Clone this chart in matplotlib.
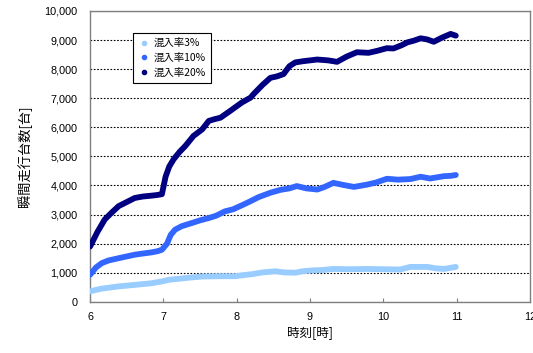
import matplotlib
matplotlib.use("Agg")
import matplotlib.pyplot as plt
from matplotlib.lines import Line2D
from matplotlib.ticker import FuncFormatter

plt.rcParams['font.family'] = ['Liberation Sans', 'Noto Sans CJK JP', 'DejaVu Sans']

# 混入率20%
t20 = [6.00, 6.10, 6.20, 6.30, 6.39, 6.50, 6.61, 6.72, 6.84, 6.91, 6.98, 7.03, 7.08,
       7.14, 7.22, 7.30, 7.41, 7.53, 7.62, 7.70, 7.78, 7.91, 8.07, 8.19, 8.23, 8.35,
       8.46, 8.55, 8.64, 8.72, 8.80, 8.90, 9.10, 9.25, 9.37, 9.50, 9.64, 9.80, 9.92,
       10.05, 10.14, 10.25, 10.33, 10.42, 10.51, 10.60, 10.69, 10.80, 10.92, 10.99]
v20 = [1900, 2400, 2830, 3080, 3290, 3430, 3570, 3620, 3650, 3670, 3700, 4300, 4650,
       4900, 5150, 5360, 5700, 5930, 6220, 6280, 6330, 6560, 6850, 7020, 7140, 7450,
       7700, 7750, 7830, 8100, 8230, 8270, 8330, 8300, 8250, 8430, 8580, 8560, 8630,
       8720, 8710, 8820, 8920, 8980, 9060, 9020, 8940, 9080, 9210, 9150]

# 混入率10%
t10 = [6.00, 6.08, 6.16, 6.25, 6.39, 6.50, 6.61, 6.72, 6.84, 6.92, 6.98, 7.05, 7.10,
       7.16, 7.25, 7.39, 7.50, 7.62, 7.72, 7.84, 7.95, 8.09, 8.19, 8.30, 8.46, 8.60,
       8.72, 8.82, 8.95, 9.10, 9.20, 9.32, 9.45, 9.60, 9.78, 9.90, 10.05, 10.20, 10.37,
       10.51, 10.64, 10.83, 10.92, 10.99]
v10 = [930, 1180, 1330, 1420, 1500, 1560, 1620, 1660, 1700, 1740, 1790, 2000, 2300,
       2480, 2600, 2710, 2800, 2880, 2960, 3110, 3180, 3340, 3460, 3600, 3750, 3850,
       3900, 3980, 3900, 3860, 3950, 4090, 4020, 3950, 4030, 4100, 4230, 4200, 4220,
       4300, 4240, 4320, 4330, 4360]

# 混入率3%
t3 = [6.00, 6.15, 6.39, 6.60, 6.84, 6.98, 7.08, 7.16, 7.35, 7.53, 7.75, 7.98, 8.10,
      8.21, 8.35, 8.53, 8.65, 8.80, 8.90, 9.03, 9.15, 9.32, 9.55, 9.78, 10.00, 10.23,
      10.37, 10.60, 10.72, 10.83, 10.99]
v3 = [360, 450, 530, 580, 640, 700, 760, 780, 830, 870, 880, 880, 920,
      950, 1010, 1050, 1010, 1000, 1050, 1080, 1090, 1130, 1120, 1130, 1120, 1110,
      1200, 1200, 1150, 1130, 1200]

labels = ['混入率3%', '混入率10%', '混入率20%']
colors = ['#99CCFF', '#3366FF', '#000080']
x_ticks = [6, 7, 8, 9, 10, 11, 12]

fig = plt.figure(figsize=(5.33, 3.53), dpi=100)
ax = fig.add_axes([0.169, 0.145, 0.825, 0.824])

for t, v, c in zip([t3, t10, t20], [v3, v10, v20], colors):
    ax.plot(t, v, color=c, lw=4.2, solid_capstyle='round', solid_joinstyle='round', zorder=3)

ax.set_xlim(6, 12)
ax.set_ylim(0, 10000)
ax.set_xticks(x_ticks)
ax.set_yticks(range(0, 10001, 1000))
ax.yaxis.set_major_formatter(FuncFormatter(lambda v, p: f'{int(v):,}'))
ax.grid(axis='y', color='black', linestyle=(0, (1.5, 1.5)), lw=0.8)
ax.tick_params(axis='x', direction='in', length=3, color='#808080', labelsize=7.8, pad=7)
ax.tick_params(axis='y', length=0, labelsize=7.8, pad=9)
for s in ax.spines.values():
    s.set_color('#808080')
    s.set_linewidth(1)

ax.set_xlabel('時刻[時]', fontsize=9, family=['Noto Sans CJK JP'], labelpad=3)
ax.set_ylabel('瞬間走行台数[台]', fontsize=9.5, family=['Noto Sans CJK JP'], labelpad=9)

handles = [Line2D([], [], marker='o', ls='none', color=c, markersize=3) for c in colors]
leg = ax.legend(handles, labels, loc='upper left', bbox_to_anchor=(0.098, 0.924),
                borderaxespad=0, fancybox=False, edgecolor='black', framealpha=1,
                prop={'family': ['Noto Sans CJK JP'], 'size': 7.5}, handlelength=1,
                handletextpad=0.5, labelspacing=0.45, borderpad=0.5)
leg.get_frame().set_linewidth(0.8)
leg.set_zorder(5)

fig.savefig('out.png', dpi=100)
